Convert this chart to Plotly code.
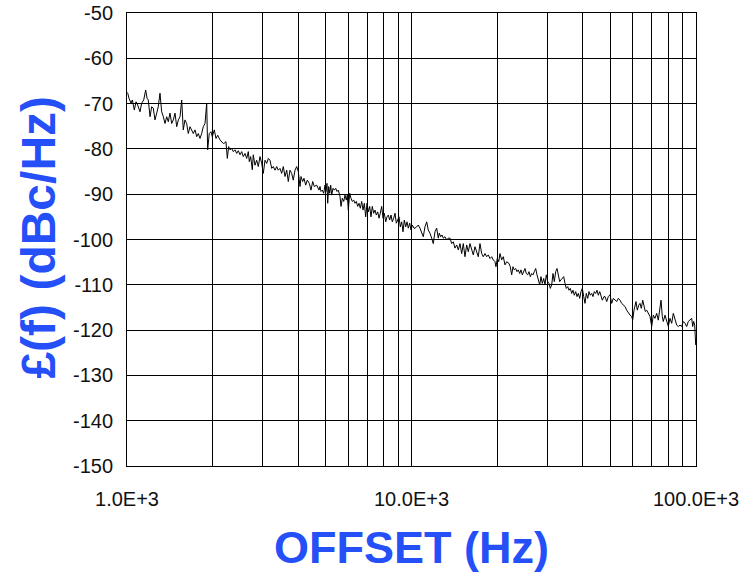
import plotly.graph_objects as go

# Offset frequency (Hz) and single-sideband phase noise (dBc/Hz)
offset_hz = [
    1000, 1006, 1016, 1033, 1044, 1061, 1076, 1090, 1111, 1126, 1145, 1163, 1176, 1188, 1205, 1221,
    1237, 1254, 1272, 1288, 1306, 1324, 1342, 1360, 1379, 1397, 1416, 1436, 1455, 1475, 1495,
    1515, 1536, 1557, 1577, 1599, 1621, 1642, 1665, 1688, 1710, 1734, 1758, 1781, 1805, 1830,
    1854, 1880, 1906, 1921, 1946, 1973, 1994, 2027, 2055, 2084, 2122, 2180,
    2192, 2228, 2252, 2277, 2302, 2333, 2364, 2397, 2430, 2461, 2496, 2530, 2563, 2599, 2635,
    2669, 2691, 2721, 2757, 2779, 2818, 2857, 2894, 2934, 2975, 3014, 3055, 3098, 3138, 3181,
    3226, 3268, 3313, 3359, 3402, 3449, 3497, 3543, 3592, 3642, 3689, 3740, 3792, 3841, 3895,
    3949, 4000, 4056, 4089, 4145, 4189, 4247, 4303, 4373, 4433, 4495, 4553, 4643, 4730,
    4768, 4807, 4858, 4913, 4965, 5005, 5046, 5075, 5116, 5158, 5200, 5242, 5298, 5354, 5415,
    5472, 5530, 5607, 5652, 5712, 5777, 5838, 5900, 5948, 5996, 6064, 6128, 6193, 6264, 6330,
    6397, 6470, 6539, 6608, 6683, 6754, 6826, 6903, 6976, 7050, 7130, 7206, 7282, 7364, 7442,
    7521, 7607, 7687, 7769, 7857, 7940, 8024, 8116, 8201, 8288, 8382, 8471, 8561, 8658, 8750,
    8843, 8944, 9038, 9134, 9238, 9335, 9434, 9541, 9642, 9745, 9856, 9960, 10065, 10204,
    10285, 10428, 10563, 10709, 10858, 11000, 11152, 11307, 11454, 11613, 11773, 11927, 12092,
    12260, 12419, 12520, 12665, 12799, 12934, 13113, 13294, 13468, 13654, 13844, 14024, 14219,
    14415, 14604, 14807, 15011, 15207, 15417, 15631, 15834, 16054, 16275, 16488, 16717, 16947,
    17169, 17406, 17648, 17877, 18126, 18376, 18616, 18875, 19135, 19385, 19653, 19812, 20022,
    20252, 20466, 20748, 21020, 21312, 21606, 22012,
    22244, 22497, 22737, 22977, 23238, 23485, 23734, 24004, 24257, 24516,
    24795, 25057, 25321, 25612, 25882, 26156, 26453, 26735, 27017, 27324,
    27613, 27905, 28225, 28523, 28824, 29155, 29463, 29774, 30112, 30430,
    30754, 31104, 31432, 31764, 32128, 32467, 32810, 33183, 33537, 33891,
    34276, 34638, 35007, 35405, 35779, 36157, 36571, 36957, 37347, 37772,
    38175, 38578, 39016, 39428, 39848, 40301, 40727, 41157, 41629, 42068,
    42512, 42996, 43454, 43913, 44412, 44881, 45359, 45875, 46359, 46853, 47500,
    47886, 48551, 49181, 49864, 50552, 51213, 51920, 52641, 53325, 54060,
    54811, 55528, 56294, 57076, 57817, 58620, 59429, 59912, 60550, 61038,
    61535, 62185, 62898, 63562, 64233, 64969, 65655, 66349, 67103, 67980,
    68918, 69875, 70783, 71766, 72756, 73708, 74732, 75333, 76135, 76748,
    77814, 78887, 79919, 81030, 82148, 83221, 84369, 85541, 86652, 87856,
    89068, 90233, 91487, 92749, 93962, 95259, 96582, 97367, 98159, 98957, 99762,
]

phase_noise_dbc = [
    -67.5, -67.7, -68.8, -69.9, -69.2, -71.4, -69.6, -70.3, -71.8, -69.9, -69.2, -67.0, -68.8, -69.2, -72.9,
    -70.7, -71.0, -73.6, -72.1, -70.7, -67.7, -71.8, -72.9, -74.4, -72.9, -74.0, -72.1, -74.4,
    -73.6, -72.1, -75.1, -73.6, -72.9, -69.2, -75.8, -73.6, -74.4, -76.6, -75.1, -75.8, -76.6,
    -75.8, -77.3, -76.6, -77.7, -76.6, -75.1, -74.4, -69.9, -80.2, -76.6, -76.2, -77.3, -75.8,
    -77.7, -77.0, -78.0, -78.8,
    -78.8, -78.4, -82.1, -79.5, -80.2, -79.9, -80.6, -80.2, -81.0, -80.4, -81.3, -80.6, -81.7,
    -81.0, -82.1, -80.6, -82.8, -81.7, -84.6, -81.3, -83.6, -82.5, -83.9, -81.7, -83.2, -85.4,
    -82.5, -83.2, -82.1, -82.5, -84.3, -83.9, -84.7, -83.9, -84.7, -84.3, -85.4, -83.9, -86.1,
    -84.7, -87.2, -84.7, -85.4, -86.9, -84.7, -83.9, -85.0, -88.3, -86.1, -87.2, -86.5, -88.0,
    -86.9, -87.6, -89.1, -87.2, -88.3, -88.0, -89.1,
    -88.3, -89.4, -89.1, -89.8, -88.0, -89.4, -87.6, -92.0, -88.3, -89.8, -88.0, -90.2, -88.7,
    -89.1, -88.7, -89.4, -89.1, -90.5, -92.7, -90.9, -91.6, -90.2, -91.3, -90.2, -93.5, -89.8,
    -90.9, -91.6, -91.3, -92.0, -91.6, -92.7, -92.0, -93.1, -91.6, -93.5, -92.0, -95.0, -92.0,
    -93.9, -92.7, -95.0, -92.7, -94.2, -93.5, -94.6, -93.9, -95.3, -94.2, -92.7, -95.3, -94.2,
    -96.1, -95.0, -94.6, -95.7, -94.6, -96.1, -95.3, -94.2, -96.4, -95.7, -95.0, -97.2, -96.1,
    -98.3, -95.7, -97.2, -96.1, -97.5, -96.4, -97.9, -96.8, -97.5,
    -97.5, -97.2, -96.8, -97.5, -98.3, -99.4, -97.2, -96.1, -97.9, -98.6, -99.7, -100.9, -98.3,
    -97.5, -99.7, -98.6, -99.4, -99.0, -99.7, -99.4, -100.1, -99.7, -99.7, -100.9, -100.5,
    -101.9, -101.2, -102.3, -100.9, -103.1, -100.9, -103.8, -101.2, -102.7, -100.9, -102.3,
    -103.4, -101.6, -102.7, -103.8, -100.9, -103.1, -103.8, -103.1, -103.8, -103.4, -104.2,
    -103.8, -104.5, -104.9, -106.0, -104.2, -104.9, -103.1, -104.5, -103.8, -105.6, -104.9, -105.3,
    -106.0, -107.8, -106.0, -106.7, -106.4, -107.1, -106.7, -107.5, -106.7, -107.8,
    -107.1, -106.4, -107.5, -107.8, -107.1, -108.2, -107.5, -107.8, -107.1, -106.4,
    -107.8, -108.9, -110.0, -108.2, -109.7, -108.6, -110.0, -107.8, -109.3, -109.7,
    -110.8, -110.0, -107.5, -109.3, -107.1, -106.4, -107.8, -109.3, -108.9, -108.6,
    -108.2, -109.7, -110.8, -110.4, -111.2, -110.8, -111.9, -111.2, -112.3, -111.5,
    -112.6, -111.9, -113.0, -111.5, -110.8, -112.6, -114.1, -111.9, -113.0, -111.5,
    -112.3, -111.9, -112.6, -111.5, -111.9, -111.2, -112.3, -111.5, -112.6, -113.4, -112.6,
    -112.6, -113.7, -112.6, -112.2, -114.1, -113.0, -113.4, -113.7, -113.0, -113.4,
    -114.1, -114.5, -114.8, -115.6, -116.3, -116.7, -117.0, -117.8, -115.6, -114.8,
    -113.7, -115.6, -114.5, -114.1, -115.2, -113.4, -114.8, -115.9, -115.6, -116.3,
    -117.0, -119.2, -116.7, -117.4, -116.3, -117.8, -115.6, -113.4, -117.0, -118.1,
    -116.7, -117.8, -119.2, -117.4, -118.5, -116.3, -117.8, -118.9, -119.2, -118.9,
    -119.2, -118.1, -118.5, -119.2, -118.1, -117.8, -117.4, -119.2, -118.1, -118.9, -123.3,
]

assert len(offset_hz) == len(phase_noise_dbc), (len(offset_hz), len(phase_noise_dbc))

# Axis ticks
x_tick_values = [1e3, 2e3, 3e3, 4e3, 5e3, 6e3, 7e3, 8e3, 9e3,
                 1e4, 2e4, 3e4, 4e4, 5e4, 6e4, 7e4, 8e4, 9e4, 1e5]
x_tick_labels = ["1.0E+3", "", "", "", "", "", "", "", "",
                 "10.0E+3", "", "", "", "", "", "", "", "",
                 "100.0E+3"]
y_tick_values = [-50, -60, -70, -80, -90, -100, -110, -120, -130, -140, -150]
y_tick_labels = ["-50", "-60", "-70", "-80", "-90", "-100", "-110", "-120", "-130", "-140", "-150"]

x_title = "OFFSET (Hz)"
y_title = "£(f) (dBc/Hz)"

TITLE_BLUE = "#2550F8"
TICK_FONT = dict(family="Arial, Liberation Sans, sans-serif", size=20, color="#111111")

fig = go.Figure()
fig.add_trace(go.Scatter(
    x=offset_hz, y=phase_noise_dbc, mode="lines",
    line=dict(color="#000000", width=1), hoverinfo="skip", showlegend=False,
))

fig.update_layout(
    width=755, height=579,
    margin=dict(l=127, r=59, t=13, b=113, autoexpand=False),
    paper_bgcolor="white", plot_bgcolor="white",
    showlegend=False,
    xaxis=dict(
        type="log", range=[3, 5], automargin=False,
        tickmode="array", tickvals=x_tick_values, ticktext=x_tick_labels,
        showgrid=True, gridcolor="#000000", gridwidth=1,
        showline=True, linecolor="#000000", linewidth=1, mirror=True,
        ticks="", ticklabelstandoff=15, tickfont=TICK_FONT, zeroline=False,
        ticklabeloverflow="allow",
    ),
    yaxis=dict(
        range=[-150, -50], automargin=False,
        tickmode="array", tickvals=y_tick_values, ticktext=y_tick_labels,
        showgrid=True, gridcolor="#000000", gridwidth=1,
        showline=True, linecolor="#000000", linewidth=1, mirror=True,
        ticks="", ticklabelstandoff=9, tickfont=TICK_FONT, zeroline=False,
        ticklabeloverflow="allow",
    ),
    annotations=[
        dict(text=f"<b>{x_title}</b>", xref="paper", yref="paper", x=0.5, y=-0.181,
             xanchor="center", yanchor="middle", showarrow=False,
             font=dict(family="Arial, Liberation Sans, sans-serif", size=45, color=TITLE_BLUE)),
        dict(text=f"<b>{y_title}</b>", xref="paper", yref="paper", x=-0.155, y=0.506,
             xanchor="center", yanchor="middle", showarrow=False, textangle=-90,
             font=dict(family="Arial, Liberation Sans, sans-serif", size=48, color=TITLE_BLUE)),
    ],
)

# remove the page's default 8px body margin so the figure sits at the window's corner
fig.write_html("out.html", config={"displayModeBar": False},
               post_script="document.body.style.margin='0';")
